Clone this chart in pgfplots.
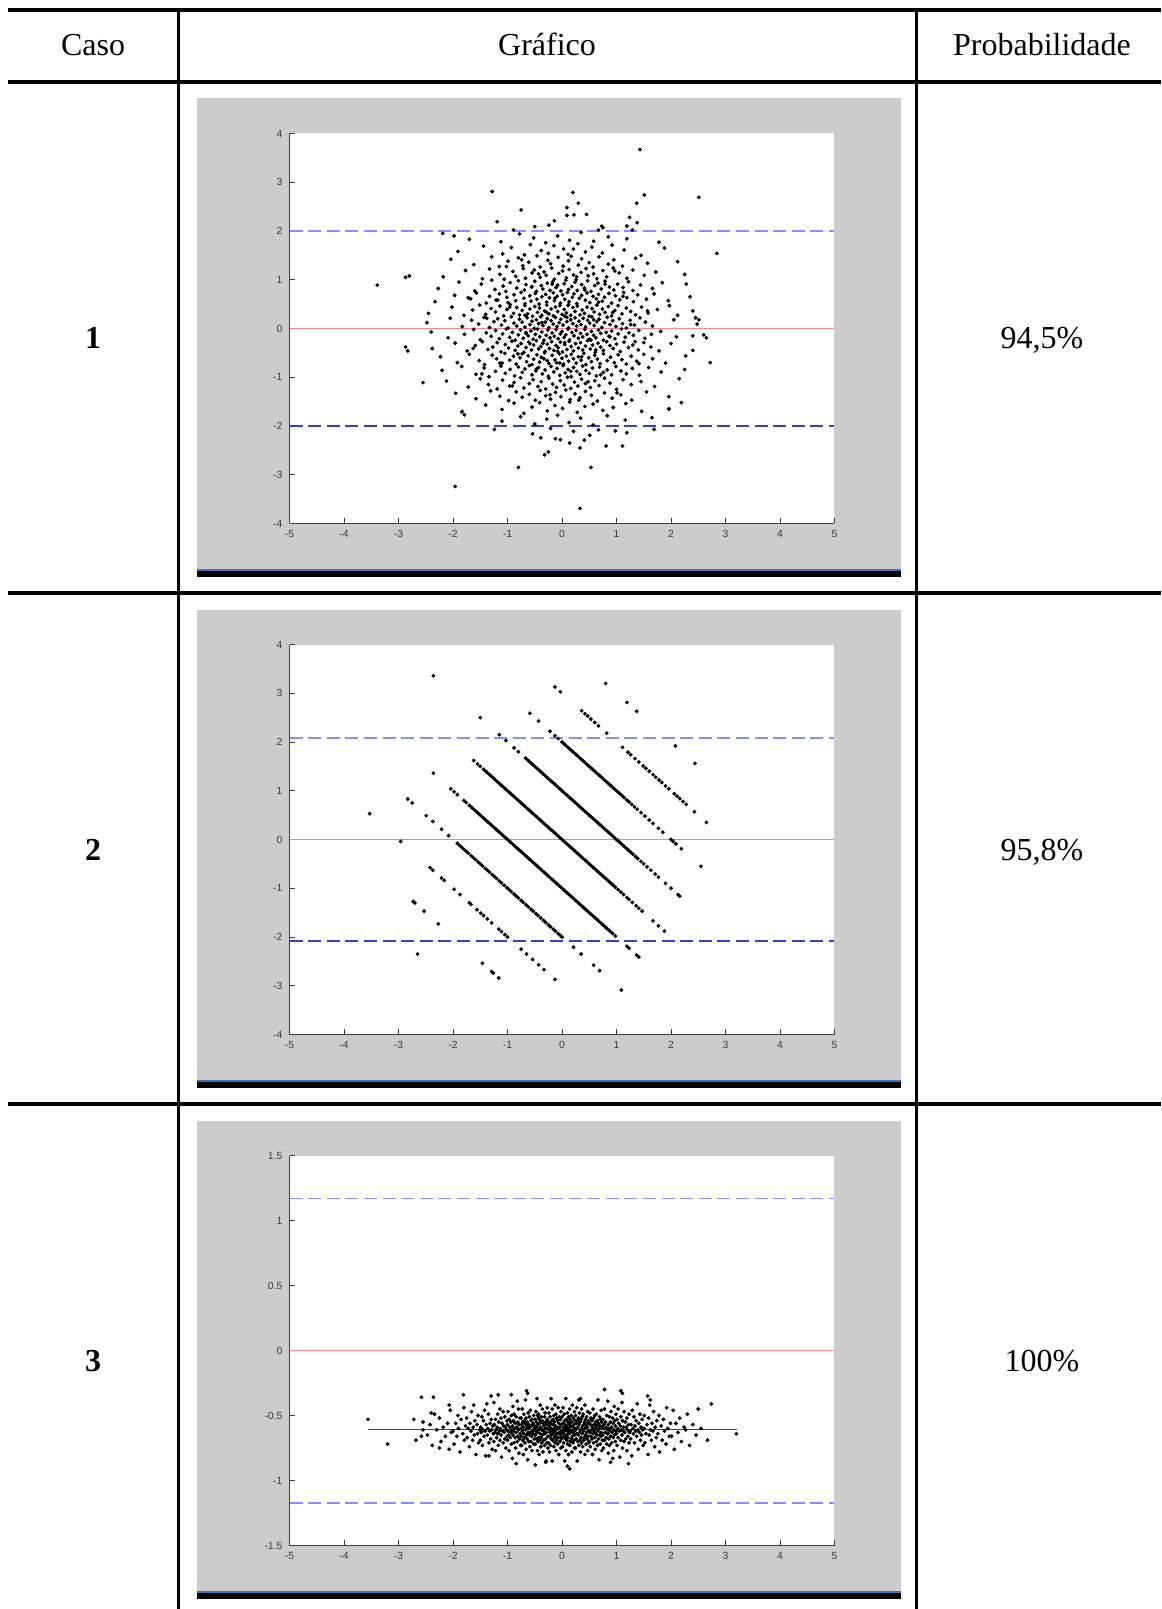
\documentclass[border=0pt]{standalone}
\usepackage{fontspec}
\setmainfont{Liberation Serif}
\newfontfamily\tickfamily{Liberation Sans}
\usepackage{pgfplots}
\pgfplotsset{compat=1.18}
\definecolor{panelgray}{HTML}{CCCCCC}
\definecolor{barblue}{HTML}{3A74C0}
\definecolor{axgray}{HTML}{3C3C3C}
\definecolor{reflight}{HTML}{8C8CFF}
\definecolor{refdark}{HTML}{3A3AD8}
\definecolor{refred}{HTML}{FF8080}
\definecolor{meanblue}{HTML}{2A2AFF}
\newcommand{\tickfont}{\tickfamily\fontsize{5.2}{6}\selectfont}
\newcommand{\tabfont}{\fontsize{16}{19}\selectfont}
\pgfplotsset{
  mstyle/.style={
    anchor=north west, scale only axis, width=272.5pt, height=195pt,
    xmin=-5, xmax=5, xtick={-5,-4,...,5},
    axis x line*=bottom, axis y line*=left,
    axis line style={draw=axgray, line width=0.45pt},
    tick style={draw=axgray, line width=0.45pt},
    tick align=inside, major tick length=2.6pt,
    ticklabel style={font=\tickfont, text=axgray},
    /pgf/number format/assume math mode=true,
    axis background/.style={fill=white},
  },
  dots/.style={only marks, mark=*, mark size=0.75pt, mark options={draw=none, fill=black}},
  refd/.style={line width=0.9pt, dash pattern=on 6.5pt off 2.8pt},
}
\begin{document}
\begin{tikzpicture}
\begin{scope}[x=0.5pt,y=-0.5pt]
\path[use as bounding box] (0,0) rectangle (1161,1609);
\foreach \o in {0,511,1022}{
  \fill[panelgray] (197,98.5+\o) rectangle (901,568.5+\o);
  \fill[barblue] (197,568.5+\o) rectangle (901,570.5+\o);
  \fill[black] (197,570.5+\o) rectangle (901,577+\o);
}
\fill[black] (8,8.5) rectangle (1161,12.5);
\fill[black] (8,80.5) rectangle (1161,84);
\fill[black] (8,591) rectangle (1161,594.5);
\fill[black] (8,1102) rectangle (1161,1105.5);
\fill[black] (176.5,8.5) rectangle (179.5,1609);
\fill[black] (914.5,8.5) rectangle (917.5,1609);
\node[anchor=base, inner sep=0] at (93,56) {\tabfont Caso};
\node[anchor=base, inner sep=0] at (547,56) {\tabfont Gráfico};
\node[anchor=base, inner sep=0] at (1042,56) {\tabfont Probabilidade};
\node[anchor=base, inner sep=0] at (93,349) {\tabfont\bfseries 1};
\node[anchor=base, inner sep=0] at (93,860) {\tabfont\bfseries 2};
\node[anchor=base, inner sep=0] at (93,1371) {\tabfont\bfseries 3};
\node[anchor=base, inner sep=0] at (1042,349) {\tabfont 94,5\%};
\node[anchor=base, inner sep=0] at (1042,860) {\tabfont 95,8\%};
\node[anchor=base, inner sep=0] at (1042,1371) {\tabfont 100\%};
\end{scope}

% ---------------- Case 1 ----------------
\begin{axis}[mstyle, at={(144.75pt,-66.75pt)}, ymin=-4, ymax=4, ytick={-4,-3,...,4}]
\addplot[dots] coordinates {
(-1.70,1.83) (-1.12,1.78) (-0.78,1.94) (-0.52,1.86) (-0.30,1.76) (-0.08,1.90) (0.14,1.81) (0.35,1.97) (0.58,1.79) (0.85,1.88) (1.19,1.84) (1.78,1.77)
(-1.91,1.58) (-1.44,1.69) (-1.09,1.53) (-0.93,1.66) (-0.69,1.51) (-0.58,1.72) (-0.38,1.60) (-0.25,1.54) (-0.15,1.70) (0.03,1.63) (0.11,1.52) (0.29,1.74) (0.43,1.57) (0.55,1.67) (0.74,1.55) (0.92,1.71) (1.14,1.61) (1.45,1.50) (1.88,1.65)
(-2.04,1.42) (-1.62,1.31) (-1.29,1.47) (-1.15,1.27) (-0.99,1.38) (-0.80,1.45) (-0.72,1.29) (-0.61,1.36) (-0.46,1.49) (-0.40,1.26) (-0.26,1.40) (-0.21,1.33) (-0.07,1.46) (0.02,1.28) (0.12,1.39) (0.17,1.48) (0.30,1.30) (0.36,1.43) (0.50,1.35) (0.57,1.26) (0.68,1.47) (0.85,1.32) (0.95,1.41) (1.11,1.28) (1.35,1.44) (1.57,1.34) (2.12,1.37)
(-2.18,1.06) (-1.77,1.19) (-1.46,1.02) (-1.33,1.22) (-1.14,1.11) (-1.06,1.01) (-0.90,1.17) (-0.85,1.07) (-0.71,1.23) (-0.67,1.03) (-0.55,1.14) (-0.51,1.20) (-0.40,1.05) (-0.33,1.16) (-0.29,1.09) (-0.19,1.24) (-0.14,1.01) (-0.06,1.13) (0.01,1.18) (0.08,1.04) (0.13,1.21) (0.21,1.10) (0.26,1.00) (0.35,1.15) (0.44,1.23) (0.48,1.08) (0.58,1.12) (0.64,1.02) (0.75,1.19) (0.82,1.06) (0.94,1.24) (1.05,1.14) (1.19,1.03) (1.30,1.20) (1.51,1.09) (1.72,1.16) (2.25,1.11)
(-2.27,0.82) (-1.89,0.95) (-1.60,0.77) (-1.48,0.91) (-1.29,0.99) (-1.23,0.80) (-1.08,0.87) (-1.03,0.76) (-0.95,0.94) (-0.83,0.83) (-0.80,0.98) (-0.69,0.79) (-0.66,0.90) (-0.56,0.85) (-0.50,0.97) (-0.47,0.76) (-0.38,0.88) (-0.35,0.81) (-0.27,0.93) (-0.22,0.78) (-0.17,0.96) (-0.11,0.84) (-0.08,0.89) (-0.02,0.77) (0.04,0.92) (0.07,0.99) (0.12,0.80) (0.18,0.86) (0.24,0.95) (0.28,0.78) (0.36,0.90) (0.41,0.83) (0.47,0.98) (0.53,0.76) (0.60,0.88) (0.66,0.93) (0.72,0.81) (0.79,0.97) (0.87,0.85) (0.95,0.79) (1.02,0.91) (1.12,0.84) (1.22,0.96) (1.30,0.78) (1.44,0.89) (1.66,0.82) (1.84,0.94) (2.28,0.91)
(-2.33,0.55) (-1.97,0.68) (-1.68,0.61) (-1.57,0.73) (-1.39,0.52) (-1.33,0.66) (-1.18,0.58) (-1.15,0.71) (-1.01,0.64) (-0.99,0.53) (-0.88,0.69) (-0.85,0.57) (-0.75,0.74) (-0.70,0.62) (-0.68,0.51) (-0.59,0.67) (-0.57,0.56) (-0.49,0.72) (-0.46,0.60) (-0.42,0.50) (-0.37,0.65) (-0.30,0.70) (-0.28,0.54) (-0.23,0.63) (-0.16,0.73) (-0.14,0.57) (-0.09,0.66) (-0.03,0.52) (0.01,0.69) (0.05,0.60) (0.10,0.74) (0.13,0.55) (0.19,0.64) (0.22,0.71) (0.27,0.51) (0.32,0.62) (0.36,0.68) (0.43,0.58) (0.46,0.73) (0.51,0.53) (0.57,0.66) (0.63,0.61) (0.67,0.70) (0.74,0.56) (0.78,0.64) (0.86,0.72) (0.91,0.52) (0.98,0.67) (1.06,0.59) (1.13,0.74) (1.19,0.63) (1.31,0.55) (1.39,0.69) (1.55,0.60) (1.69,0.71) (1.95,0.57) (2.35,0.65)
(-2.45,0.31) (-2.02,0.44) (-1.80,0.27) (-1.64,0.38) (-1.51,0.48) (-1.40,0.29) (-1.30,0.41) (-1.22,0.34) (-1.14,0.46) (-1.07,0.26) (-1.01,0.39) (-0.95,0.49) (-0.89,0.31) (-0.83,0.43) (-0.78,0.28) (-0.73,0.37) (-0.68,0.47) (-0.63,0.30) (-0.59,0.40) (-0.54,0.25) (-0.50,0.45) (-0.45,0.33) (-0.41,0.42) (-0.37,0.27) (-0.32,0.36) (-0.28,0.48) (-0.24,0.30) (-0.20,0.40) (-0.16,0.26) (-0.12,0.44) (-0.08,0.35) (-0.04,0.47) (0.00,0.29) (0.04,0.39) (0.08,0.32) (0.12,0.49) (0.16,0.27) (0.20,0.43) (0.24,0.35) (0.28,0.46) (0.33,0.28) (0.37,0.38) (0.41,0.31) (0.46,0.44) (0.50,0.25) (0.55,0.41) (0.59,0.34) (0.64,0.48) (0.69,0.29) (0.74,0.40) (0.79,0.33) (0.85,0.45) (0.91,0.26) (0.97,0.37) (1.03,0.47) (1.10,0.30) (1.18,0.42) (1.26,0.35) (1.35,0.28) (1.46,0.44) (1.58,0.32) (1.75,0.39) (1.97,0.47) (2.12,0.27) (2.40,0.36)
(-2.48,0.12) (-2.05,0.21) (-1.83,0.04) (-1.66,0.17) (-1.53,0.09) (-1.43,0.23) (-1.33,0.02) (-1.25,0.14) (-1.18,0.20) (-1.11,0.07) (-1.05,0.16) (-0.99,0.01) (-0.93,0.24) (-0.88,0.11) (-0.83,0.05) (-0.78,0.19) (-0.73,0.13) (-0.68,0.03) (-0.64,0.22) (-0.59,0.08) (-0.55,0.15) (-0.51,0.00) (-0.47,0.18) (-0.43,0.10) (-0.39,0.24) (-0.35,0.06) (-0.31,0.13) (-0.27,0.20) (-0.24,0.02) (-0.20,0.16) (-0.16,0.09) (-0.12,0.23) (-0.09,0.04) (-0.05,0.12) (-0.02,0.19) (0.02,0.07) (0.05,0.25) (0.09,0.14) (0.12,0.01) (0.16,0.18) (0.20,0.10) (0.24,0.22) (0.27,0.05) (0.31,0.15) (0.35,0.08) (0.39,0.21) (0.43,0.03) (0.47,0.17) (0.51,0.11) (0.55,0.24) (0.59,0.06) (0.64,0.14) (0.68,0.19) (0.73,0.02) (0.78,0.12) (0.83,0.23) (0.88,0.08) (0.93,0.16) (0.99,0.04) (1.05,0.20) (1.11,0.10) (1.18,0.01) (1.25,0.17) (1.33,0.07) (1.43,0.22) (1.53,0.13) (1.66,0.05) (2.05,0.18) (2.48,0.09)
(-2.40,-0.07) (-2.09,-0.19) (-1.79,-0.12) (-1.62,-0.02) (-1.50,-0.23) (-1.39,-0.09) (-1.30,-0.16) (-1.22,-0.04) (-1.15,-0.21) (-1.09,-0.11) (-1.02,-0.01) (-0.96,-0.18) (-0.91,-0.08) (-0.86,-0.24) (-0.80,-0.13) (-0.76,-0.03) (-0.71,-0.20) (-0.66,-0.10) (-0.62,-0.15) (-0.57,-0.05) (-0.53,-0.22) (-0.49,-0.12) (-0.45,-0.01) (-0.41,-0.17) (-0.37,-0.07) (-0.33,-0.24) (-0.29,-0.14) (-0.26,-0.03) (-0.22,-0.19) (-0.18,-0.09) (-0.14,-0.16) (-0.11,-0.02) (-0.07,-0.21) (-0.03,-0.11) (0.00,-0.06) (0.04,-0.18) (0.07,-0.13) (0.11,-0.01) (0.14,-0.23) (0.18,-0.08) (0.22,-0.15) (0.26,-0.04) (0.30,-0.20) (0.34,-0.10) (0.38,-0.17) (0.42,-0.02) (0.46,-0.12) (0.50,-0.22) (0.54,-0.06) (0.58,-0.14) (0.62,-0.19) (0.67,-0.03) (0.71,-0.10) (0.76,-0.24) (0.81,-0.08) (0.86,-0.16) (0.91,-0.05) (0.97,-0.21) (1.03,-0.11) (1.09,-0.01) (1.16,-0.18) (1.23,-0.09) (1.31,-0.14) (1.41,-0.04) (1.52,-0.20) (1.64,-0.12) (1.81,-0.06) (2.10,-0.17) (2.60,-0.13)
(-2.38,-0.41) (-1.96,-0.30) (-1.74,-0.46) (-1.59,-0.35) (-1.46,-0.27) (-1.36,-0.43) (-1.27,-0.38) (-1.19,-0.29) (-1.12,-0.48) (-1.04,-0.33) (-0.98,-0.40) (-0.92,-0.26) (-0.86,-0.45) (-0.81,-0.36) (-0.75,-0.31) (-0.70,-0.49) (-0.66,-0.39) (-0.61,-0.28) (-0.56,-0.44) (-0.52,-0.34) (-0.47,-0.25) (-0.43,-0.42) (-0.39,-0.37) (-0.35,-0.30) (-0.31,-0.47) (-0.27,-0.32) (-0.23,-0.41) (-0.19,-0.27) (-0.15,-0.45) (-0.11,-0.35) (-0.07,-0.39) (-0.03,-0.28) (0.01,-0.48) (0.05,-0.33) (0.09,-0.43) (0.13,-0.26) (0.17,-0.37) (0.21,-0.46) (0.25,-0.31) (0.30,-0.40) (0.34,-0.29) (0.38,-0.44) (0.43,-0.36) (0.47,-0.25) (0.52,-0.42) (0.56,-0.34) (0.61,-0.49) (0.66,-0.30) (0.71,-0.38) (0.76,-0.45) (0.82,-0.27) (0.88,-0.35) (0.94,-0.41) (1.00,-0.32) (1.07,-0.47) (1.14,-0.28) (1.22,-0.39) (1.30,-0.34) (1.40,-0.44) (1.50,-0.29) (1.63,-0.38) (1.78,-0.46) (2.00,-0.31) (2.40,-0.45)
(-2.23,-0.58) (-1.92,-0.70) (-1.70,-0.53) (-1.52,-0.66) (-1.42,-0.74) (-1.28,-0.55) (-1.20,-0.62) (-1.10,-0.71) (-1.05,-0.51) (-0.96,-0.65) (-0.89,-0.57) (-0.84,-0.73) (-0.77,-0.60) (-0.73,-0.52) (-0.65,-0.68) (-0.62,-0.56) (-0.55,-0.74) (-0.52,-0.63) (-0.46,-0.54) (-0.41,-0.69) (-0.38,-0.59) (-0.32,-0.50) (-0.27,-0.66) (-0.24,-0.72) (-0.18,-0.55) (-0.13,-0.64) (-0.10,-0.70) (-0.05,-0.52) (0.00,-0.61) (0.03,-0.73) (0.08,-0.57) (0.12,-0.67) (0.17,-0.53) (0.21,-0.62) (0.26,-0.71) (0.30,-0.58) (0.35,-0.65) (0.40,-0.51) (0.44,-0.74) (0.49,-0.60) (0.54,-0.68) (0.60,-0.55) (0.65,-0.63) (0.70,-0.72) (0.76,-0.52) (0.83,-0.66) (0.89,-0.59) (0.96,-0.70) (1.03,-0.54) (1.10,-0.64) (1.18,-0.73) (1.27,-0.57) (1.37,-0.67) (1.50,-0.53) (1.66,-0.62) (1.90,-0.71) (2.27,-0.56)
(-2.20,-0.86) (-1.84,-0.78) (-1.58,-0.94) (-1.43,-0.81) (-1.34,-0.99) (-1.22,-0.88) (-1.12,-0.77) (-1.04,-0.92) (-0.95,-0.84) (-0.87,-0.97) (-0.80,-0.79) (-0.73,-0.90) (-0.68,-0.83) (-0.60,-0.76) (-0.55,-0.95) (-0.48,-0.87) (-0.43,-0.80) (-0.36,-0.93) (-0.31,-0.85) (-0.25,-0.98) (-0.20,-0.78) (-0.15,-0.89) (-0.09,-0.82) (-0.04,-0.96) (0.02,-0.76) (0.06,-0.91) (0.11,-0.84) (0.17,-0.99) (0.21,-0.80) (0.27,-0.88) (0.33,-0.94) (0.38,-0.77) (0.44,-0.86) (0.50,-0.92) (0.56,-0.81) (0.63,-0.97) (0.69,-0.79) (0.76,-0.90) (0.83,-0.85) (0.91,-0.95) (0.99,-0.78) (1.08,-0.87) (1.18,-0.93) (1.29,-0.82) (1.42,-0.96) (1.59,-0.80) (1.82,-0.89) (2.25,-0.84)
(-2.12,-1.08) (-1.72,-1.20) (-1.50,-1.03) (-1.35,-1.15) (-1.19,-1.24) (-1.09,-1.06) (-0.96,-1.18) (-0.88,-1.11) (-0.76,-1.01) (-0.70,-1.22) (-0.60,-1.13) (-0.53,-1.05) (-0.44,-1.19) (-0.38,-1.09) (-0.30,-1.24) (-0.24,-1.02) (-0.17,-1.14) (-0.10,-1.21) (-0.03,-1.07) (0.04,-1.16) (0.10,-1.00) (0.16,-1.23) (0.23,-1.10) (0.29,-1.18) (0.36,-1.04) (0.43,-1.13) (0.52,-1.21) (0.60,-1.07) (0.68,-1.17) (0.78,-1.02) (0.88,-1.12) (1.00,-1.25) (1.12,-1.05) (1.27,-1.15) (1.45,-1.09) (1.70,-1.19) (2.15,-1.03)
(-1.95,-1.33) (-1.58,-1.44) (-1.31,-1.28) (-1.14,-1.39) (-0.98,-1.48) (-0.84,-1.30) (-0.73,-1.41) (-0.60,-1.35) (-0.49,-1.47) (-0.40,-1.27) (-0.30,-1.38) (-0.21,-1.45) (-0.12,-1.31) (-0.02,-1.40) (0.07,-1.26) (0.15,-1.46) (0.24,-1.34) (0.33,-1.42) (0.43,-1.29) (0.54,-1.37) (0.65,-1.49) (0.78,-1.32) (0.92,-1.43) (1.08,-1.36) (1.28,-1.47) (1.55,-1.30) (1.96,-1.40)
(-1.84,-1.71) (-1.40,-1.57) (-1.10,-1.66) (-0.88,-1.53) (-0.70,-1.74) (-0.55,-1.61) (-0.41,-1.52) (-0.27,-1.69) (-0.13,-1.58) (0.01,-1.64) (0.14,-1.51) (0.28,-1.72) (0.42,-1.60) (0.57,-1.55) (0.75,-1.68) (0.94,-1.62) (1.17,-1.54) (1.46,-1.70) (1.96,-1.65)
(-1.79,-1.77) (-1.10,-1.90) (-0.76,-1.81) (-0.50,-1.96) (-0.28,-1.86) (-0.08,-1.78) (0.13,-1.93) (0.34,-1.84) (0.57,-1.98) (0.83,-1.79) (1.16,-1.88) (1.65,-1.83)
(-0.37,0.12) (0.62,-0.44) (-1.21,0.58) (0.93,0.33) (-0.04,-0.71) (0.27,1.06) (-0.81,-0.52) (1.34,-0.27) (-0.55,0.86) (0.11,0.47) (-1.63,-0.41) (0.48,-1.09) (-0.22,-1.36) (0.79,0.91) (-1.02,1.27) (1.57,0.36) (-0.66,-0.08) (0.36,-0.58) (-0.13,0.62) (0.71,-0.95) (-1.38,0.21) (0.05,-0.29) (1.12,0.66) (-0.47,-0.83) (0.58,0.18) (-0.91,-1.18) (0.21,1.63) (-1.72,0.63) (1.41,-0.72) (-0.29,0.34) (0.88,-0.17) (-0.74,1.41) (0.42,0.79) (-0.08,-0.47) (1.01,-1.32) (-1.14,-0.71) (0.16,-0.88) (-0.43,1.12) (0.67,0.54) (-0.59,-0.31) (1.26,0.08) (-0.18,0.91) (0.31,-1.47) (-0.96,0.44) (0.53,-0.24) (-0.33,-0.62) (0.97,1.18) (-1.47,-0.93) (0.09,0.23) (-0.68,0.27)
(1.43,3.67) (-1.28,2.81) (0.20,2.79) (0.30,2.57) (0.09,2.48) (-0.75,2.43) (1.37,2.57) (1.51,2.74) (2.51,2.69) (0.45,2.34) (0.22,2.33) (0.09,2.32) (-1.19,2.19) (-0.14,2.21) (1.24,2.28) (1.38,2.17) (-0.50,2.09) (-0.24,2.12) (1.19,2.10) (0.73,2.10) (0.75,2.07) (-0.89,2.02) (0.67,2.02) (1.29,2.02) (2.84,1.54) (-2.19,1.95) (-1.98,1.90)
(-3.39,0.89) (-2.87,1.05) (-2.80,1.08) (-2.87,-0.38) (-2.83,-0.46) (-2.55,-1.11) (2.72,-0.70) (2.19,-1.52) (1.96,-1.65) (-1.83,-1.70) (2.51,0.18) (2.45,0.22) (2.65,-0.19) (2.40,-0.15)
(-1.96,-3.24) (0.33,-3.69) (0.53,-2.85) (-0.80,-2.85) (-0.32,-2.59) (-0.25,-2.53) (0.33,-2.45) (0.81,-2.41) (1.11,-2.41) (1.69,-2.07) (-1.24,-2.07) (-0.54,-2.16) (-0.39,-2.24) (-0.21,-2.05) (-0.12,-2.26) (-0.03,-2.28) (0.14,-2.35) (0.21,-2.11) (0.41,-2.29) (0.51,-2.19) (0.67,-2.08) (0.98,-2.10) (1.19,-2.14)
};
\addplot[reflight, refd] coordinates {(-5,2) (5,2)};
\addplot[refdark, refd] coordinates {(-5,-2) (5,-2)};
\addplot[refred, line width=0.9pt] coordinates {(-5,0) (5,0)};
\end{axis}

% ---------------- Case 2 ----------------
\begin{axis}[mstyle, at={(144.75pt,-322.25pt)}, ymin=-4, ymax=4, ytick={-4,-3,...,4}]
\addplot[dots] coordinates {
(-1.62,1.62) (-1.55,1.55) (-1.50,1.50) (-1.44,1.44)
(-1.40,1.40) (-1.37,1.37) (-1.33,1.33) (-1.30,1.30) (-1.26,1.26) (-1.23,1.23) (-1.19,1.19) (-1.16,1.16) (-1.12,1.12) (-1.09,1.09) (-1.05,1.05) (-1.02,1.02) (-0.98,0.98) (-0.95,0.95) (-0.91,0.91) (-0.88,0.88) (-0.84,0.84) (-0.81,0.81) (-0.77,0.77) (-0.74,0.74) (-0.70,0.70) (-0.67,0.67) (-0.63,0.63) (-0.60,0.60) (-0.56,0.56) (-0.53,0.53) (-0.49,0.49) (-0.46,0.46) (-0.42,0.42) (-0.39,0.39) (-0.35,0.35) (-0.32,0.32) (-0.28,0.28) (-0.25,0.25) (-0.21,0.21) (-0.18,0.18) (-0.14,0.14) (-0.11,0.11) (-0.07,0.07) (-0.04,0.04) (0.00,0.00) (0.03,-0.03) (0.07,-0.07) (0.10,-0.10) (0.14,-0.14) (0.17,-0.17) (0.21,-0.21) (0.24,-0.24) (0.28,-0.28) (0.31,-0.31) (0.35,-0.35) (0.38,-0.38) (0.42,-0.42) (0.45,-0.45) (0.49,-0.49) (0.52,-0.52) (0.56,-0.56) (0.59,-0.59) (0.63,-0.63) (0.66,-0.66) (0.70,-0.70) (0.73,-0.73) (0.77,-0.77) (0.80,-0.80) (0.84,-0.84) (0.87,-0.87) (0.91,-0.91) (0.94,-0.94) (0.98,-0.98)
(1.03,-1.03) (1.08,-1.08) (1.13,-1.13) (1.19,-1.19) (1.23,-1.23) (1.29,-1.29) (1.36,-1.36) (1.41,-1.41) (1.47,-1.47) (1.67,-1.67) (1.77,-1.77) (1.88,-1.88)
(-2.36,1.36) (-2.04,1.04) (-1.98,0.98) (-1.92,0.92) (-1.80,0.80) (-1.76,0.76)
(-1.70,0.70) (-1.66,0.66) (-1.63,0.63) (-1.59,0.59) (-1.56,0.56) (-1.52,0.52) (-1.49,0.49) (-1.45,0.45) (-1.42,0.42) (-1.38,0.38) (-1.35,0.35) (-1.31,0.31) (-1.28,0.28) (-1.24,0.24) (-1.21,0.21) (-1.17,0.17) (-1.14,0.14) (-1.10,0.10) (-1.07,0.07) (-1.03,0.03) (-1.00,0.00) (-0.96,-0.04) (-0.93,-0.07) (-0.89,-0.11) (-0.86,-0.14) (-0.82,-0.18) (-0.79,-0.21) (-0.75,-0.25) (-0.72,-0.28) (-0.68,-0.32) (-0.65,-0.35) (-0.61,-0.39) (-0.58,-0.42) (-0.54,-0.46) (-0.51,-0.49) (-0.47,-0.53) (-0.44,-0.56) (-0.40,-0.60) (-0.37,-0.63) (-0.33,-0.67) (-0.30,-0.70) (-0.26,-0.74) (-0.23,-0.77) (-0.19,-0.81) (-0.16,-0.84) (-0.12,-0.88) (-0.09,-0.91) (-0.05,-0.95) (-0.02,-0.98) (0.02,-1.02) (0.05,-1.05) (0.09,-1.09) (0.12,-1.12) (0.16,-1.16) (0.19,-1.19) (0.23,-1.23) (0.26,-1.26) (0.30,-1.30) (0.33,-1.33) (0.37,-1.37) (0.40,-1.40) (0.44,-1.44) (0.47,-1.47) (0.51,-1.51) (0.54,-1.54) (0.58,-1.58) (0.61,-1.61) (0.65,-1.65) (0.68,-1.68) (0.72,-1.72) (0.75,-1.75) (0.79,-1.79) (0.82,-1.82) (0.86,-1.86) (0.89,-1.89) (0.93,-1.93) (0.98,-1.98)
(1.19,-2.19) (1.23,-2.23) (1.37,-2.37) (1.41,-2.41)
(-2.36,3.36) (-1.50,2.50) (-1.15,2.15) (-1.03,2.03) (-0.88,1.88) (-0.80,1.80)
(-0.67,1.67) (-0.63,1.63) (-0.60,1.60) (-0.56,1.56) (-0.53,1.53) (-0.49,1.49) (-0.46,1.46) (-0.42,1.42) (-0.39,1.39) (-0.35,1.35) (-0.32,1.32) (-0.28,1.28) (-0.25,1.25) (-0.21,1.21) (-0.18,1.18) (-0.14,1.14) (-0.11,1.11) (-0.07,1.07) (-0.04,1.04) (0.00,1.00) (0.03,0.97) (0.07,0.93) (0.10,0.90) (0.14,0.86) (0.17,0.83) (0.21,0.79) (0.24,0.76) (0.28,0.72) (0.31,0.69) (0.35,0.65) (0.38,0.62) (0.42,0.58) (0.45,0.55) (0.49,0.51) (0.52,0.48) (0.56,0.44) (0.59,0.41) (0.63,0.37) (0.66,0.34) (0.70,0.30) (0.73,0.27) (0.77,0.23) (0.80,0.20) (0.84,0.16) (0.87,0.13) (0.91,0.09) (0.94,0.06) (0.98,0.02) (1.01,-0.01) (1.05,-0.05) (1.08,-0.08) (1.12,-0.12) (1.15,-0.15) (1.19,-0.19) (1.22,-0.22) (1.26,-0.26) (1.30,-0.30) (1.35,-0.35) (1.39,-0.39) (1.45,-0.45) (1.50,-0.50) (1.56,-0.56) (1.63,-0.63)
(1.71,-0.71) (1.77,-0.77) (1.90,-0.90) (2.00,-1.00) (2.13,-1.13) (2.16,-1.16)
(-0.59,2.59) (-0.43,2.43) (-0.22,2.22) (-0.13,2.13) (-0.07,2.07)
(0.00,2.00) (0.04,1.96) (0.07,1.93) (0.11,1.89) (0.14,1.86) (0.18,1.82) (0.21,1.79) (0.25,1.75) (0.28,1.72) (0.32,1.68) (0.35,1.65) (0.39,1.61) (0.42,1.58) (0.46,1.54) (0.49,1.51) (0.53,1.47) (0.56,1.44) (0.60,1.40) (0.63,1.37) (0.67,1.33) (0.70,1.30) (0.74,1.26) (0.77,1.23) (0.81,1.19) (0.84,1.16) (0.88,1.12) (0.91,1.09) (0.95,1.05) (0.98,1.02) (1.02,0.98) (1.06,0.94) (1.10,0.90) (1.14,0.86) (1.19,0.81) (1.23,0.77) (1.28,0.72) (1.33,0.67) (1.38,0.62)
(1.45,0.55) (1.52,0.48) (1.60,0.40) (1.67,0.33) (1.77,0.23) (1.85,0.15) (2.00,0.00) (2.04,-0.04) (2.09,-0.09) (2.19,-0.19) (2.55,-0.55)
(-2.83,0.83) (-2.75,0.75) (-2.49,0.49) (-2.37,0.37) (-2.21,0.21) (-2.08,0.08)
(-1.92,-0.08) (-1.88,-0.12) (-1.84,-0.16) (-1.80,-0.20) (-1.76,-0.24) (-1.72,-0.28) (-1.67,-0.33) (-1.63,-0.37) (-1.59,-0.41) (-1.54,-0.46) (-1.50,-0.50) (-1.46,-0.54) (-1.41,-0.59) (-1.37,-0.63) (-1.33,-0.67) (-1.28,-0.72) (-1.24,-0.76) (-1.20,-0.80) (-1.15,-0.85) (-1.11,-0.89) (-1.06,-0.94) (-1.01,-0.99) (-0.97,-1.03) (-0.93,-1.07) (-0.88,-1.12) (-0.84,-1.16) (-0.80,-1.20) (-0.75,-1.25) (-0.71,-1.29) (-0.66,-1.34) (-0.62,-1.38) (-0.57,-1.43) (-0.53,-1.47) (-0.48,-1.52) (-0.44,-1.56) (-0.39,-1.61) (-0.34,-1.66) (-0.30,-1.70) (-0.25,-1.75) (-0.21,-1.79) (-0.16,-1.84) (-0.12,-1.88) (-0.07,-1.93) (-0.03,-1.97) (0.00,-2.00)
(0.21,-2.21) (0.35,-2.35) (0.58,-2.58) (0.69,-2.69) (1.09,-3.09)
(-3.53,0.53) (-2.96,-0.04) (-2.42,-0.58) (-2.37,-0.63) (-2.21,-0.79) (-2.16,-0.84) (-1.98,-1.02) (-1.87,-1.13) (-1.70,-1.30) (-1.67,-1.33) (-1.56,-1.44) (-1.49,-1.51) (-1.44,-1.56) (-1.37,-1.63) (-1.29,-1.71) (-1.16,-1.84) (-1.11,-1.89) (-1.05,-1.95) (-1.00,-2.00) (-0.75,-2.25) (-0.65,-2.35) (-0.54,-2.46) (-0.43,-2.57) (-0.33,-2.67) (-0.13,-2.87)
(-2.73,-1.27) (-2.70,-1.30) (-2.53,-1.47) (-2.27,-1.73) (-1.46,-2.54) (-1.29,-2.71) (-1.26,-2.74) (-1.16,-2.84)
(-2.65,-2.35)
(-0.13,3.13) (-0.03,3.03) (0.36,2.64) (0.42,2.58) (0.47,2.53) (0.53,2.47) (0.60,2.40) (0.67,2.33) (0.82,2.18) (1.11,1.89) (1.21,1.79) (1.26,1.74) (1.34,1.66) (1.41,1.59) (1.49,1.51) (1.54,1.46) (1.60,1.40) (1.67,1.33) (1.72,1.28) (1.78,1.22) (1.83,1.17) (1.90,1.10) (1.96,1.04) (2.06,0.94) (2.11,0.89) (2.16,0.84) (2.22,0.78) (2.28,0.72) (2.43,0.57) (2.65,0.35)
(0.80,3.20) (1.19,2.81) (1.37,2.63) (2.08,1.92) (2.44,1.56)
};
\addplot[reflight, refd] coordinates {(-5,2.08) (5,2.08)};
\addplot[refdark, refd] coordinates {(-5,-2.08) (5,-2.08)};
\addplot[refred, line width=0.9pt] coordinates {(-5,0) (5,0)};
\end{axis}

% ---------------- Case 3 ----------------
\begin{axis}[mstyle, at={(144.75pt,-577.75pt)}, ymin=-1.5, ymax=1.5, ytick={-1.5,-1,-0.5,0,0.5,1,1.5}]
\addplot[dots] coordinates {
(-0.18,-0.85) (-0.06,-0.80) (-0.23,-0.78) (-0.11,-0.77) (-0.02,-0.75) (-0.15,-0.74) (-0.21,-0.73) (-0.08,-0.72) (-0.13,-0.71) (-0.25,-0.71) (-0.04,-0.70) (-0.17,-0.69) (-0.10,-0.69) (-0.20,-0.68) (-0.01,-0.68) (-0.14,-0.67) (-0.07,-0.67) (-0.24,-0.66) (-0.12,-0.66) (-0.03,-0.65) (-0.19,-0.65) (-0.09,-0.64) (-0.16,-0.64) (-0.22,-0.63) (-0.05,-0.63) (-0.13,-0.62) (-0.18,-0.62) (-0.01,-0.62) (-0.11,-0.61) (-0.24,-0.61) (-0.07,-0.60) (-0.15,-0.60) (-0.20,-0.60) (-0.04,-0.59) (-0.09,-0.59) (-0.23,-0.58) (-0.12,-0.58) (-0.17,-0.57) (-0.02,-0.57) (-0.06,-0.56) (-0.21,-0.56) (-0.14,-0.55) (-0.25,-0.55) (-0.08,-0.54) (-0.19,-0.54) (-0.03,-0.53) (-0.16,-0.53) (-0.10,-0.52) (-0.22,-0.51) (-0.05,-0.51) (-0.15,-0.50) (-0.11,-0.49) (-0.24,-0.48) (-0.02,-0.47) (-0.18,-0.45) (-0.07,-0.44) (-0.13,-0.42) (-0.20,-0.37)
(0.05,-0.85) (0.12,-0.80) (0.18,-0.78) (0.07,-0.77) (0.23,-0.75) (0.01,-0.74) (0.14,-0.73) (0.10,-0.72) (0.20,-0.71) (0.03,-0.71) (0.15,-0.70) (0.09,-0.69) (0.22,-0.69) (0.06,-0.68) (0.17,-0.68) (0.00,-0.67) (0.11,-0.67) (0.04,-0.66) (0.19,-0.66) (0.23,-0.65) (0.08,-0.65) (0.13,-0.64) (0.02,-0.64) (0.16,-0.63) (0.21,-0.63) (0.05,-0.62) (0.10,-0.62) (0.18,-0.62) (0.01,-0.61) (0.14,-0.61) (0.24,-0.60) (0.07,-0.60) (0.12,-0.60) (0.20,-0.59) (0.03,-0.59) (0.09,-0.58) (0.16,-0.58) (0.06,-0.57) (0.22,-0.57) (0.13,-0.56) (0.01,-0.56) (0.18,-0.55) (0.11,-0.55) (0.24,-0.54) (0.05,-0.54) (0.15,-0.53) (0.08,-0.53) (0.21,-0.52) (0.00,-0.51) (0.12,-0.51) (0.17,-0.50) (0.04,-0.49) (0.10,-0.48) (0.23,-0.47) (0.14,-0.45) (0.02,-0.44) (0.19,-0.42) (0.07,-0.37)
(-0.29,-0.85) (-0.42,-0.80) (-0.35,-0.78) (-0.45,-0.77) (-0.26,-0.75) (-0.39,-0.74) (-0.32,-0.73) (-0.49,-0.72) (-0.37,-0.71) (-0.28,-0.71) (-0.44,-0.70) (-0.34,-0.69) (-0.41,-0.69) (-0.47,-0.68) (-0.30,-0.68) (-0.38,-0.67) (-0.43,-0.67) (-0.26,-0.66) (-0.36,-0.65) (-0.49,-0.65) (-0.32,-0.64) (-0.40,-0.64) (-0.45,-0.63) (-0.29,-0.63) (-0.34,-0.62) (-0.48,-0.62) (-0.37,-0.61) (-0.42,-0.61) (-0.27,-0.60) (-0.31,-0.60) (-0.46,-0.59) (-0.39,-0.59) (-0.50,-0.58) (-0.33,-0.58) (-0.44,-0.57) (-0.28,-0.57) (-0.41,-0.56) (-0.35,-0.56) (-0.47,-0.55) (-0.30,-0.55) (-0.40,-0.54) (-0.36,-0.54) (-0.49,-0.53) (-0.27,-0.53) (-0.43,-0.52) (-0.32,-0.51) (-0.38,-0.51) (-0.45,-0.50) (-0.43,-0.49) (-0.31,-0.48) (-0.48,-0.47) (-0.36,-0.45) (-0.27,-0.44) (-0.40,-0.42) (-0.46,-0.37)
(0.28,-0.85) (0.42,-0.80) (0.34,-0.78) (0.47,-0.77) (0.25,-0.75) (0.38,-0.74) (0.31,-0.73) (0.44,-0.72) (0.36,-0.71) (0.49,-0.71) (0.29,-0.70) (0.40,-0.69) (0.33,-0.69) (0.46,-0.68) (0.26,-0.68) (0.41,-0.67) (0.35,-0.67) (0.48,-0.66) (0.30,-0.65) (0.43,-0.65) (0.37,-0.64) (0.27,-0.64) (0.45,-0.63) (0.32,-0.63) (0.39,-0.62) (0.49,-0.62) (0.34,-0.61) (0.25,-0.61) (0.42,-0.60) (0.36,-0.60) (0.47,-0.59) (0.29,-0.59) (0.38,-0.58) (0.44,-0.58) (0.31,-0.57) (0.40,-0.57) (0.26,-0.56) (0.46,-0.56) (0.33,-0.55) (0.41,-0.55) (0.28,-0.54) (0.48,-0.54) (0.35,-0.53) (0.43,-0.53) (0.30,-0.52) (0.37,-0.51) (0.45,-0.51) (0.25,-0.50) (0.39,-0.49) (0.32,-0.48) (0.47,-0.47) (0.36,-0.45) (0.27,-0.44) (0.42,-0.42) (0.34,-0.37)
(-0.63,-0.84) (-0.71,-0.80) (-0.55,-0.77) (-0.66,-0.76) (-0.59,-0.74) (-0.74,-0.73) (-0.52,-0.72) (-0.68,-0.71) (-0.61,-0.70) (-0.57,-0.70) (-0.72,-0.69) (-0.64,-0.68) (-0.51,-0.68) (-0.69,-0.67) (-0.56,-0.66) (-0.75,-0.66) (-0.60,-0.65) (-0.65,-0.65) (-0.53,-0.64) (-0.70,-0.64) (-0.62,-0.63) (-0.58,-0.63) (-0.73,-0.62) (-0.54,-0.62) (-0.67,-0.61) (-0.63,-0.60) (-0.51,-0.60) (-0.71,-0.59) (-0.59,-0.59) (-0.65,-0.58) (-0.56,-0.58) (-0.74,-0.57) (-0.61,-0.57) (-0.68,-0.56) (-0.53,-0.56) (-0.64,-0.55) (-0.72,-0.55) (-0.57,-0.54) (-0.69,-0.54) (-0.55,-0.53) (-0.66,-0.52) (-0.75,-0.52) (-0.60,-0.51) (-0.52,-0.50) (-0.70,-0.49) (-0.62,-0.48) (-0.58,-0.46) (-0.73,-0.45) (-0.67,-0.38)
(0.68,-0.84) (0.56,-0.80) (0.73,-0.77) (0.61,-0.76) (0.52,-0.74) (0.65,-0.73) (0.70,-0.72) (0.58,-0.71) (0.63,-0.70) (0.50,-0.70) (0.74,-0.69) (0.55,-0.68) (0.67,-0.68) (0.60,-0.67) (0.71,-0.66) (0.53,-0.66) (0.64,-0.65) (0.69,-0.65) (0.57,-0.64) (0.62,-0.64) (0.51,-0.63) (0.72,-0.63) (0.59,-0.62) (0.66,-0.62) (0.54,-0.61) (0.68,-0.60) (0.61,-0.60) (0.74,-0.59) (0.56,-0.59) (0.64,-0.58) (0.70,-0.58) (0.52,-0.57) (0.59,-0.57) (0.67,-0.56) (0.50,-0.56) (0.73,-0.55) (0.62,-0.55) (0.55,-0.54) (0.65,-0.54) (0.71,-0.53) (0.58,-0.52) (0.53,-0.52) (0.69,-0.51) (0.60,-0.50) (0.63,-0.49) (0.51,-0.48) (0.72,-0.46) (0.57,-0.45) (0.66,-0.38)
(-0.91,-0.83) (-0.79,-0.79) (-0.97,-0.77) (-0.85,-0.75) (-0.76,-0.73) (-0.93,-0.72) (-0.88,-0.71) (-0.82,-0.70) (-1.00,-0.69) (-0.78,-0.68) (-0.95,-0.67) (-0.86,-0.67) (-0.81,-0.66) (-0.98,-0.65) (-0.90,-0.65) (-0.77,-0.64) (-0.94,-0.63) (-0.84,-0.63) (-0.89,-0.62) (-0.99,-0.62) (-0.80,-0.61) (-0.92,-0.61) (-0.87,-0.60) (-0.76,-0.60) (-0.96,-0.59) (-0.83,-0.59) (-0.91,-0.58) (-0.79,-0.57) (-1.00,-0.57) (-0.86,-0.56) (-0.94,-0.55) (-0.81,-0.55) (-0.89,-0.54) (-0.97,-0.53) (-0.77,-0.52) (-0.84,-0.51) (-0.93,-0.50) (-0.88,-0.49) (-0.99,-0.47) (-0.80,-0.45) (-0.90,-0.43) (-0.82,-0.39)
(0.93,-0.83) (0.85,-0.79) (0.95,-0.77) (0.76,-0.75) (0.87,-0.73) (0.82,-0.72) (0.91,-0.71) (0.98,-0.70) (0.78,-0.69) (0.86,-0.68) (0.94,-0.67) (0.81,-0.67) (0.89,-0.66) (0.75,-0.65) (0.96,-0.65) (0.84,-0.64) (0.92,-0.63) (0.79,-0.63) (0.99,-0.62) (0.88,-0.62) (0.83,-0.61) (0.95,-0.61) (0.76,-0.60) (0.86,-0.60) (0.91,-0.59) (0.81,-0.59) (0.98,-0.58) (0.85,-0.57) (0.77,-0.57) (0.94,-0.56) (0.89,-0.55) (0.80,-0.55) (0.97,-0.54) (0.75,-0.53) (0.93,-0.52) (0.87,-0.51) (0.82,-0.50) (0.99,-0.49) (0.90,-0.47) (0.78,-0.45) (0.96,-0.43) (0.84,-0.39)
(-1.11,-0.82) (-1.22,-0.77) (-1.03,-0.75) (-1.17,-0.73) (-1.08,-0.71) (-1.25,-0.70) (-1.14,-0.69) (-1.05,-0.68) (-1.20,-0.67) (-1.01,-0.66) (-1.12,-0.65) (-1.18,-0.64) (-1.06,-0.63) (-1.23,-0.63) (-1.09,-0.62) (-1.15,-0.62) (-1.02,-0.61) (-1.21,-0.61) (-1.13,-0.60) (-1.04,-0.59) (-1.19,-0.59) (-1.07,-0.58) (-1.24,-0.57) (-1.10,-0.56) (-1.16,-0.55) (-1.01,-0.54) (-1.22,-0.53) (-1.12,-0.52) (-1.05,-0.51) (-1.18,-0.49) (-1.08,-0.47) (-1.14,-0.45) (-1.25,-0.40)
(1.06,-0.82) (1.19,-0.77) (1.11,-0.75) (1.01,-0.73) (1.23,-0.71) (1.14,-0.70) (1.08,-0.69) (1.17,-0.68) (1.03,-0.67) (1.21,-0.66) (1.10,-0.65) (1.00,-0.64) (1.15,-0.63) (1.24,-0.63) (1.05,-0.62) (1.12,-0.62) (1.20,-0.61) (1.09,-0.61) (1.02,-0.60) (1.18,-0.59) (1.13,-0.59) (1.07,-0.58) (1.22,-0.57) (1.04,-0.56) (1.16,-0.55) (1.11,-0.54) (1.01,-0.53) (1.19,-0.52) (1.08,-0.51) (1.23,-0.49) (1.14,-0.47) (1.03,-0.45) (1.10,-0.40)
(-1.40,-0.81) (-1.28,-0.76) (-1.46,-0.73) (-1.34,-0.71) (-1.50,-0.69) (-1.31,-0.68) (-1.43,-0.66) (-1.37,-0.65) (-1.26,-0.64) (-1.48,-0.63) (-1.33,-0.62) (-1.41,-0.62) (-1.29,-0.61) (-1.45,-0.61) (-1.36,-0.60) (-1.49,-0.59) (-1.27,-0.58) (-1.39,-0.57) (-1.32,-0.56) (-1.44,-0.54) (-1.30,-0.53) (-1.47,-0.51) (-1.35,-0.49) (-1.42,-0.46) (-1.38,-0.41)
(1.28,-0.81) (1.40,-0.76) (1.49,-0.73) (1.33,-0.71) (1.44,-0.69) (1.26,-0.68) (1.37,-0.66) (1.46,-0.65) (1.31,-0.64) (1.42,-0.63) (1.35,-0.62) (1.25,-0.62) (1.48,-0.61) (1.39,-0.61) (1.30,-0.60) (1.45,-0.59) (1.34,-0.58) (1.27,-0.57) (1.41,-0.56) (1.36,-0.54) (1.47,-0.53) (1.32,-0.51) (1.43,-0.49) (1.29,-0.46) (1.38,-0.41)
(-1.58,-0.80) (-1.70,-0.74) (-1.53,-0.71) (-1.64,-0.69) (-1.74,-0.67) (-1.61,-0.65) (-1.55,-0.64) (-1.67,-0.62) (-1.51,-0.61) (-1.72,-0.60) (-1.63,-0.59) (-1.56,-0.57) (-1.69,-0.56) (-1.60,-0.54) (-1.75,-0.52) (-1.54,-0.50) (-1.66,-0.47) (-1.62,-0.42)
(1.58,-0.80) (1.70,-0.74) (1.52,-0.71) (1.64,-0.69) (1.73,-0.67) (1.60,-0.65) (1.54,-0.64) (1.67,-0.62) (1.62,-0.61) (1.50,-0.60) (1.71,-0.59) (1.56,-0.57) (1.65,-0.56) (1.74,-0.54) (1.59,-0.52) (1.51,-0.50) (1.68,-0.47) (1.61,-0.42)
(-1.87,-0.78) (-1.98,-0.72) (-1.79,-0.69) (-1.93,-0.66) (-1.82,-0.64) (-2.00,-0.62) (-1.90,-0.60) (-1.77,-0.58) (-1.95,-0.56) (-1.85,-0.53) (-1.91,-0.50) (-1.80,-0.44)
(1.79,-0.78) (1.91,-0.72) (1.84,-0.69) (1.97,-0.66) (1.76,-0.64) (1.88,-0.62) (1.94,-0.60) (1.82,-0.58) (1.99,-0.56) (1.86,-0.53) (1.78,-0.50) (1.92,-0.44)
(-2.07,-0.76) (-2.22,-0.70) (-2.14,-0.66) (-2.03,-0.63) (-2.18,-0.59) (-2.10,-0.56) (-2.25,-0.52) (-2.05,-0.46)
(2.06,-0.76) (2.19,-0.70) (2.01,-0.66) (2.13,-0.63) (2.24,-0.59) (2.09,-0.56) (2.16,-0.52) (2.04,-0.46)
(-2.38,-0.73) (-2.47,-0.65) (-2.30,-0.61) (-2.42,-0.57) (-2.34,-0.49)
(2.34,-0.73) (2.46,-0.65) (2.27,-0.61) (2.40,-0.57) (2.30,-0.49)
(-2.68,-0.69) (-2.55,-0.61) (-2.72,-0.53) (2.67,-0.69) (2.55,-0.60) (2.74,-0.41)
(-3.56,-0.53) (-3.20,-0.72) (3.20,-0.64) (2.50,-0.45) (-2.58,-0.36) (-2.36,-0.36) (-1.81,-0.34) (-2.07,-0.42) (-0.65,-0.31) (-0.63,-0.33) (0.78,-0.30) (1.08,-0.31) (1.11,-0.33) (-1.30,-0.35) (-1.17,-0.34) (-0.93,-0.34) (0.31,-0.38) (1.57,-0.35) (1.62,-0.38) (0.14,-0.91) (-0.49,-0.88) (1.22,-0.87) (-0.84,-0.87) (0.89,-0.86) (0.10,-0.89) (-0.30,-0.86) (-1.34,-0.81) (-2.25,-0.75) (-2.58,-0.66) (-2.40,-0.48) (-2.55,-0.55)
};
\addplot[meanblue, line width=0.55pt] coordinates {(-3.56,-0.61) (3.22,-0.61)};
\addplot[reflight, refd] coordinates {(-5,1.17) (5,1.17)};
\addplot[reflight, refd] coordinates {(-5,-1.17) (5,-1.17)};
\addplot[refred, line width=0.9pt] coordinates {(-5,0) (5,0)};
\end{axis}
\end{tikzpicture}
\end{document}
